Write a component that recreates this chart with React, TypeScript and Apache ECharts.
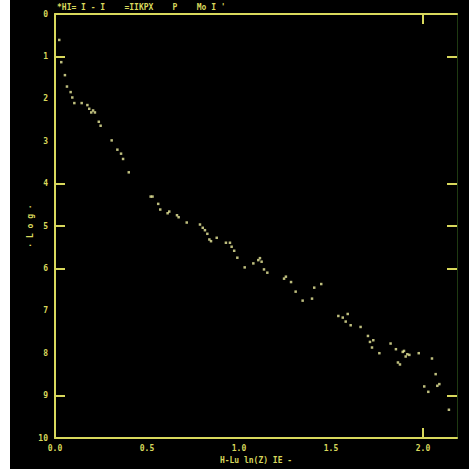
import React, { useEffect, useRef } from "react";
import * as echarts from "echarts";

const titleText = "*HI= I - I    =IIKPX    P    Mo I '";
const xName = "H-Lu ln(Z) IE -";
const yName = "· L o g ·";
const xLabelValues = [0, 0.5, 1.0, 1.5, 2.0];
const yLabelValues = [0, 1, 2, 3, 4, 5, 6, 7, 8, 9, 10];
const yTickValues = [1, 4, 5, 6, 9];
const xTickValues = [2.0];

const xs = [0.023, 0.034, 0.054, 0.065, 0.085, 0.094, 0.105, 0.145, 0.176, 0.186, 0.207, 0.197, 0.217, 0.238, 0.248, 0.308, 0.339, 0.359, 0.370, 0.401, 0.520, 0.530, 0.561, 0.572, 0.612, 0.621, 0.663, 0.672, 0.716, 0.788, 0.803, 0.815, 0.828, 0.839, 0.848, 0.879, 0.929, 0.951, 0.960, 0.974, 0.991, 1.031, 1.078, 1.105, 1.114, 1.123, 1.136, 1.154, 1.245, 1.255, 1.283, 1.308, 1.346, 1.397, 1.409, 1.447, 1.540, 1.564, 1.591, 1.580, 1.607, 1.661, 1.701, 1.712, 1.730, 1.723, 1.763, 1.824, 1.853, 1.864, 1.875, 1.890, 1.897, 1.906, 1.915, 1.926, 1.977, 2.049, 2.007, 2.029, 2.069, 2.078, 2.089, 2.141];
const ys = [0.612, 1.136, 1.442, 1.711, 1.842, 1.969, 2.101, 2.101, 2.148, 2.235, 2.275, 2.322, 2.322, 2.541, 2.635, 2.981, 3.200, 3.294, 3.419, 3.734, 4.306, 4.306, 4.478, 4.612, 4.699, 4.659, 4.746, 4.793, 4.918, 4.965, 5.042, 5.099, 5.184, 5.318, 5.358, 5.278, 5.395, 5.395, 5.489, 5.584, 5.748, 5.976, 5.882, 5.805, 5.758, 5.842, 6.024, 6.101, 6.242, 6.195, 6.322, 6.548, 6.760, 6.713, 6.454, 6.369, 7.122, 7.160, 7.075, 7.254, 7.341, 7.381, 7.593, 7.734, 7.694, 7.866, 8.000, 7.772, 7.906, 8.219, 8.266, 7.969, 7.946, 8.078, 8.024, 8.040, 8.000, 8.125, 8.784, 8.911, 8.494, 8.769, 8.729, 9.334];

const YEL = "#d8d85c";
const FONT = "DejaVu Sans Mono";

export default function App() {
  const ref = useRef<HTMLDivElement>(null);
  useEffect(() => {
    if (!ref.current) return;
    const chart = echarts.init(ref.current, null, { renderer: "svg" });
    const data = xs.map((x, i) => [x, ys[i]]);
    const lbl = { color: YEL, fontFamily: FONT, fontWeight: "bold" as const, fontSize: 8 };
    chart.setOption({
      animation: false,
      backgroundColor: "#000000",
      grid: { left: 55, right: 12, top: 14, bottom: 30 },
      graphic: [
        { type: "rect", left: 0, top: 0, shape: { width: 10, height: 469 }, style: { fill: "#ffffff" } },
        { type: "text", left: 57, top: 3, style: { text: titleText, fill: YEL, font: `bold 8px "${FONT}"` } },
      ],
      xAxis: [
        {
          type: "value", position: "bottom", min: 0, max: 2.185, interval: 0.5,
          name: xName, nameLocation: "middle", nameGap: 18, nameMoveOverlap: false,
          nameTextStyle: { ...lbl },
          axisLine: { onZero: false, lineStyle: { color: YEL, width: 2 } },
          axisTick: { inside: true, length: 10, customValues: xTickValues, lineStyle: { color: YEL, width: 2 } },
          axisLabel: { ...lbl, margin: 6, customValues: xLabelValues, formatter: (v: number) => v.toFixed(1) },
          splitLine: { show: false },
        },
        {
          type: "value", position: "top", min: 0, max: 2.185, interval: 0.5,
          axisLine: { onZero: false, lineStyle: { color: YEL, width: 2 } },
          axisTick: { inside: true, length: 10, customValues: xTickValues, lineStyle: { color: YEL, width: 2 } },
          axisLabel: { show: false },
          splitLine: { show: false },
        },
      ],
      yAxis: [
        {
          type: "value", position: "left", min: 0, max: 10, interval: 1, inverse: true,
          name: yName, nameLocation: "middle", nameGap: 21, nameRotate: 90, nameMoveOverlap: false,
          nameTextStyle: { ...lbl },
          axisLine: { onZero: false, lineStyle: { color: YEL, width: 2 } },
          axisTick: { inside: true, length: 10, customValues: yTickValues, lineStyle: { color: YEL, width: 2 } },
          axisLabel: { ...lbl, margin: 7, customValues: yLabelValues },
          splitLine: { show: false },
        },
        {
          type: "value", position: "right", min: 0, max: 10, interval: 1, inverse: true,
          axisLine: { onZero: false, lineStyle: { color: "#1f3a12", width: 1 } },
          axisTick: { inside: true, length: 10, customValues: yTickValues, lineStyle: { color: YEL, width: 2 } },
          axisLabel: { show: false },
          splitLine: { show: false },
        },
      ],
      series: [
        {
          type: "scatter", xAxisIndex: 0, yAxisIndex: 0, data,
          symbol: "rect", symbolSize: 2.5,
          itemStyle: { color: "#ecec9c" },
        },
      ],
    });
    return () => chart.dispose();
  }, []);
  return <div ref={ref} style={{ position: "fixed", left: 0, top: 0, width: 469, height: 469 }} />;
}
